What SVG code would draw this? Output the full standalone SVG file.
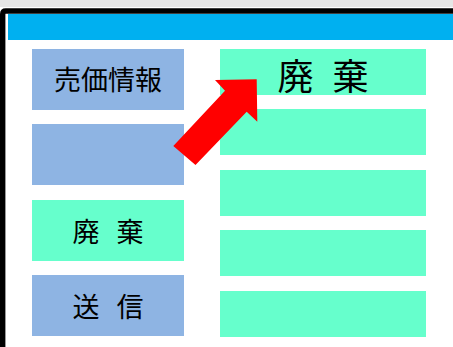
<svg xmlns="http://www.w3.org/2000/svg" width="453" height="347" viewBox="0 0 453 347">
<style>
.blue{fill:#8EB4E3}
.green{fill:#66FFCC}
.t{font-family:"Noto Sans CJK JP","Noto Sans CJK SC",sans-serif;fill:#000;text-anchor:middle}
</style>
<rect x="0" y="0" width="453" height="347" fill="#fff"/>
<rect x="0" y="0" width="453" height="7" fill="#e6e6e6"/>
<path d="M2.7,347 V14 Q2.7,11 5.7,11 H453" fill="none" stroke="#000" stroke-width="5.4"/>
<rect x="8" y="14" width="445" height="26" fill="#00B0F0"/>
<g id="left1"><rect class="blue" x="32" y="49" width="152" height="61"/><text class="t" x="108" y="89.5" font-size="27">売価情報</text></g>
<g id="left2"><rect class="blue" x="32" y="124" width="152" height="61"/></g>
<g id="left3"><rect class="green" x="32" y="200" width="152" height="61"/><text class="t" x="108" y="241.5" font-size="27" word-spacing="11" xml:space="preserve">廃 棄</text></g>
<g id="left4"><rect class="blue" x="32" y="275" width="152" height="61"/><text class="t" x="108" y="316.5" font-size="27" word-spacing="11" xml:space="preserve">送 信</text></g>
<g id="right1"><rect class="green" x="220" y="49" width="206" height="46"/><text class="t" x="323" y="89.5" font-size="36" word-spacing="11" xml:space="preserve">廃 棄</text></g>
<g id="right2"><rect class="green" x="220" y="109" width="206" height="46"/></g>
<g id="right3"><rect class="green" x="220" y="170" width="206" height="46"/></g>
<g id="right4"><rect class="green" x="220" y="230" width="206" height="46"/></g>
<g id="right5"><rect class="green" x="220" y="291" width="206" height="46"/></g>
<g id="connectors">
<polygon points="256.7,79.3 257.3,121.7 246.7,111.7 195.5,165 173.3,146 225,90.7 215,80" fill="#FF0000"/>
</g>
</svg>
